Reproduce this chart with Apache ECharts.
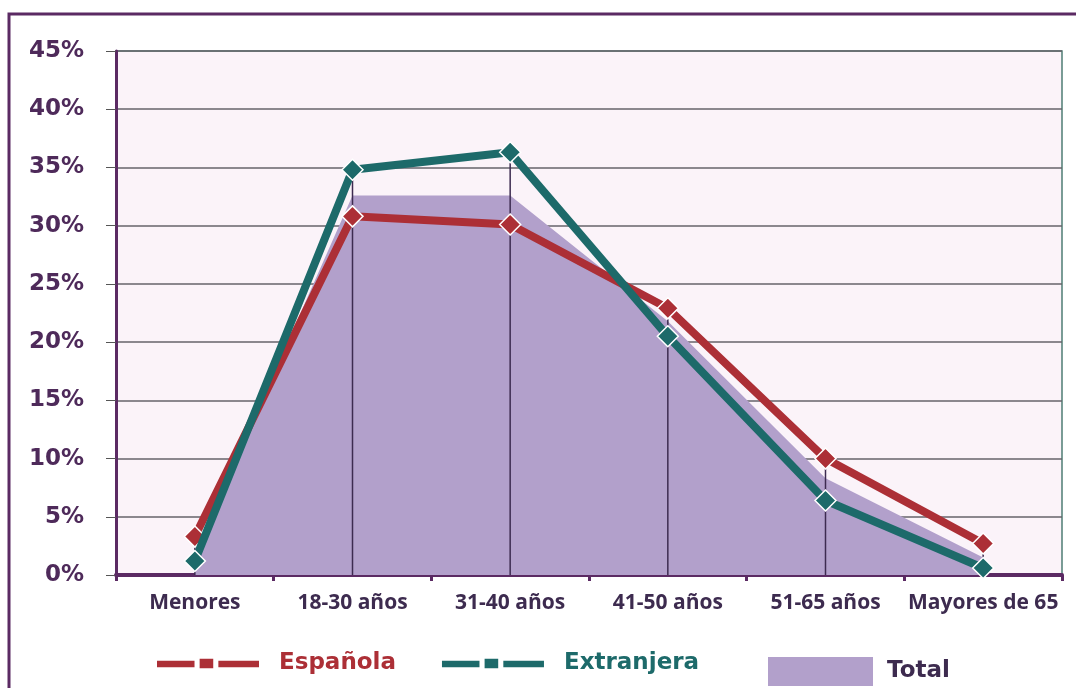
<!DOCTYPE html>
<html>
<head>
<meta charset="utf-8">
<script src="https://cdn.jsdelivr.net/npm/echarts@6/dist/echarts.min.js"></script>
<style>
html,body{margin:0;padding:0;background:#fff;}
#c{width:1076px;height:688px;}
</style>
</head>
<body>
<div id="c"></div>
<script>
const categories = ['Menores', '18-30 años', '31-40 años', '41-50 años', '51-65 años', 'Mayores de 65'];
const espanola = [3.3, 30.8, 30.1, 22.9, 10.0, 2.7];
const extranjera = [1.2, 34.8, 36.3, 20.5, 6.4, 0.6];
const total = [2.0, 32.6, 32.6, 21.8, 8.3, 1.5];
const yTicks = { min: 0, max: 45, interval: 5 };

const dropLines = categories.map((c, i) => Math.max(espanola[i], extranjera[i], total[i]));

const chart = echarts.init(document.getElementById('c'));
const purple = '#5b2a63';
const red = '#ac2f36';
const teal = '#1d6a6a';
const lineIcon = 'path://M0,2H38V10H0Z M41,0H56V11H41Z M59,2H100V10H59Z';

chart.setOption({
  animation: false,
  backgroundColor: '#ffffff',
  graphic: [
    { type: 'rect', shape: { x: 9, y: 14, width: 1100, height: 700 }, style: { fill: 'none', stroke: purple, lineWidth: 3 }, z: -1 }
  ],
  grid: {
    left: 116, right: 14, top: 51, bottom: 113,
    show: true, backgroundColor: '#fbf3f9', borderColor: '#4f7d74', borderWidth: 1.5
  },
  legend: [
    {
      left: 150, top: 647, itemWidth: 104, itemHeight: 15, itemGap: 44,
      data: [
        { name: 'Española', icon: lineIcon, itemStyle: { color: red }, textStyle: { color: red } },
        { name: 'Extranjera', icon: lineIcon, itemStyle: { color: teal }, textStyle: { color: teal } }
      ],
      textStyle: { fontFamily: 'DejaVu Sans', fontWeight: 'bold', fontSize: 23, padding: [0, 0, 0, 14] }
    },
    {
      left: 763, top: 652, itemWidth: 105, itemHeight: 29,
      data: [{ name: 'Total', icon: 'rect', itemStyle: { color: '#b2a0cb' } }],
      textStyle: { fontFamily: 'DejaVu Sans', fontWeight: 'bold', fontSize: 23, color: '#3d2b4f', padding: [0, 0, 0, 9] }
    }
  ],
  xAxis: {
    type: 'category', data: categories, boundaryGap: true,
    axisLine: { lineStyle: { color: purple, width: 4 } },
    axisTick: { show: true, length: 6, lineStyle: { color: purple, width: 3 } },
    axisLabel: { margin: 18, color: '#3d2b4f', fontFamily: 'Open Sans', fontWeight: 'bold', fontSize: 21, interval: 0 },
    splitLine: { show: false }
  },
  yAxis: {
    type: 'value', min: yTicks.min, max: yTicks.max, interval: yTicks.interval,
    axisLine: { show: true, lineStyle: { color: purple, width: 3 } },
    axisTick: { show: true, length: 10, lineStyle: { color: '#555' } },
    axisLabel: { formatter: '{value}%', margin: 32, color: '#4e2a5a', fontFamily: 'DejaVu Sans', fontWeight: 'bold', fontSize: 23 },
    splitLine: { show: true, lineStyle: { color: '#66636a', width: 1.5 } }
  },
  series: [
    {
      name: 'Total', type: 'line', data: total, symbol: 'none', z: 1,
      lineStyle: { width: 0 },
      itemStyle: { color: '#b2a0cb' },
      areaStyle: { color: '#b2a0cb', opacity: 1 }
    },
    {
      name: 'drop', type: 'bar', data: dropLines, barWidth: 1.5, silent: true, z: 2,
      itemStyle: { color: '#3d2b50' }
    },
    {
      name: 'Española', type: 'line', data: espanola, z: 3,
      symbol: 'diamond', symbolSize: 21,
      lineStyle: { color: red, width: 8 },
      itemStyle: { color: red, borderColor: '#ffffff', borderWidth: 1.5 }
    },
    {
      name: 'Extranjera', type: 'line', data: extranjera, z: 4,
      symbol: 'diamond', symbolSize: 21,
      lineStyle: { color: teal, width: 8 },
      itemStyle: { color: teal, borderColor: '#ffffff', borderWidth: 1.5 }
    }
  ]
});
</script>
</body>
</html>
